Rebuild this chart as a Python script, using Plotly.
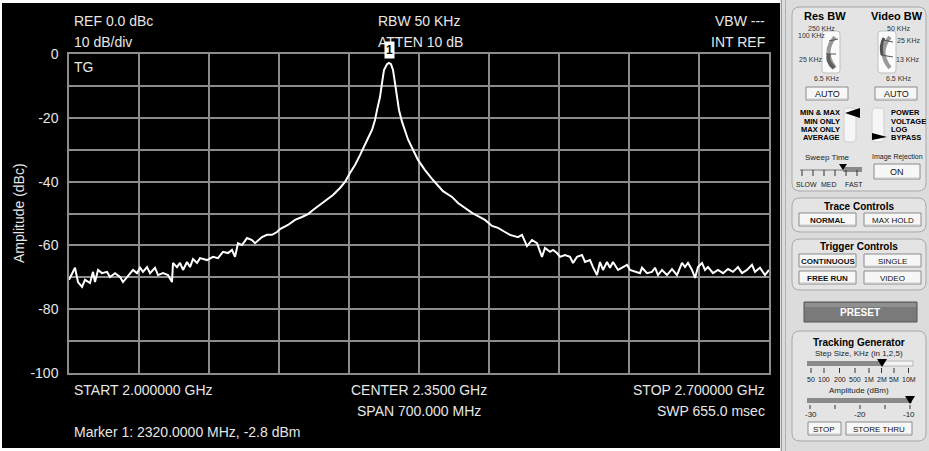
import plotly.graph_objects as go

# ---------------- data ----------------
freq_mhz = [2000, 2006, 2009, 2013, 2016, 2021, 2024, 2026, 2029, 2033, 2038, 2041, 2046, 2051,
            2054, 2058, 2061, 2064, 2068, 2071, 2074, 2078, 2081, 2086, 2089, 2094, 2099, 2103,
            2104, 2108, 2111, 2114, 2118, 2121, 2124, 2128, 2131, 2138, 2144, 2149, 2154, 2159,
            2163, 2166, 2169, 2173, 2178, 2183, 2186, 2193, 2198, 2203, 2208, 2211, 2219, 2226,
            2233, 2239, 2244, 2251, 2258, 2264, 2271, 2276, 2281, 2286, 2291, 2295, 2299, 2303,
            2306, 2308, 2311, 2313, 2315, 2318, 2320, 2322, 2324, 2326, 2328, 2330, 2333, 2336,
            2339, 2344, 2349, 2356, 2364, 2374, 2383, 2389, 2396, 2403, 2409, 2416, 2423, 2429,
            2436, 2441, 2449, 2453, 2458, 2463, 2468, 2473, 2476, 2481, 2484, 2488, 2491, 2496,
            2501, 2504, 2508, 2513, 2516, 2521, 2524, 2528, 2531, 2534, 2538, 2541, 2544, 2549,
            2554, 2558, 2561, 2566, 2571, 2573, 2578, 2583, 2586, 2589, 2593, 2598, 2603, 2608,
            2613, 2616, 2619, 2623, 2626, 2629, 2633, 2636, 2639, 2644, 2649, 2654, 2659, 2664,
            2669, 2673, 2678, 2683, 2686, 2691, 2696, 2700]
amp_dbc = [-70.8, -67.0, -71.5, -73.0, -70.8, -71.8, -68.3, -71.5, -67.7, -68.7, -68.3, -69.9, -68.7, -69.9,
           -71.5, -69.9, -68.7, -67.7, -68.7, -67.0, -68.3, -66.8, -68.7, -67.0, -69.3, -68.7, -69.3, -71.5,
           -65.5, -66.8, -65.5, -67.7, -65.2, -66.8, -64.3, -65.5, -64.0, -64.6, -63.6, -64.0, -62.0, -62.4,
           -61.4, -63.6, -59.3, -59.9, -57.7, -58.3, -59.3, -57.4, -56.7, -56.7, -55.8, -54.9, -53.6, -52.0,
           -51.1, -50.2, -48.9, -47.3, -45.8, -44.2, -42.0, -40.1, -37.3, -34.8, -31.7, -28.8, -26.4, -23.8,
           -20.7, -17.6, -13.5, -9.1, -5.0, -3.2, -2.8, -3.2, -5.0, -9.1, -13.5, -17.6, -21.2, -24.2,
           -26.8, -30.0, -33.2, -36.4, -39.5, -43.0, -44.8, -46.7, -48.3, -49.8, -50.8, -52.0, -53.9, -54.5,
           -55.8, -56.7, -57.4, -56.7, -60.2, -58.3, -59.3, -63.6, -60.8, -62.0, -61.4, -62.4, -63.6, -63.0,
           -63.6, -65.5, -63.6, -63.0, -65.2, -64.6, -66.8, -69.3, -65.2, -67.7, -65.2, -67.0, -65.2, -67.7,
           -66.8, -66.1, -67.7, -68.3, -68.7, -67.0, -68.7, -68.3, -67.0, -69.3, -67.7, -69.3, -67.4, -69.3,
           -65.5, -66.8, -65.5, -67.7, -70.2, -66.8, -65.5, -67.7, -66.8, -68.7, -67.7, -68.7, -67.4, -68.3,
           -66.8, -68.7, -67.7, -66.1, -68.3, -67.0, -69.3, -67.7]

y_tick_vals = [0, -10, -20, -30, -40, -50, -60, -70, -80, -90, -100]
y_tick_text = ["0", "", "-20", "", "-40", "", "-60", "", "-80", "", "-100"]
x_grid_vals = [2000, 2070, 2140, 2210, 2280, 2350, 2420, 2490, 2560, 2630, 2700]

marker_freq = 2320
marker_amp = -2.8

# ---------------- geometry helpers (pixel -> paper) ----------------
W, H = 929, 451
PL, PR, PT, PB = 69, 769, 54, 373


def px(x):
    return (x - PL) / (PR - PL)


def py(y):
    return (PB - y) / (PB - PT)


FONT = "Liberation Sans, Arial, sans-serif"
shapes = []
annots = []


def text(x, y, s, size, anchor="center", color="black", bold=False, yanchor="middle"):
    if bold:
        s = "<b>" + s + "</b>"
    annots.append(dict(x=px(x), y=py(y), xref="paper", yref="paper", text=s, showarrow=False,
                       xanchor=anchor, yanchor=yanchor,
                       font=dict(family=FONT, size=size, color=color)))


def rect(x0, y0, x1, y1, fill, line="rgba(0,0,0,0)", lw=0):
    shapes.append(dict(type="rect", xref="paper", yref="paper", x0=px(x0), x1=px(x1),
                       y0=py(y1), y1=py(y0), fillcolor=fill, line=dict(color=line, width=lw),
                       layer="above"))


def P(x, y):
    return f"{px(x):.5f},{py(y):.5f}"


def rrect(x0, y0, x1, y1, r, fill, line, lw=1):
    path = (f"M {P(x0 + r, y0)} L {P(x1 - r, y0)} Q {P(x1, y0)} {P(x1, y0 + r)} "
            f"L {P(x1, y1 - r)} Q {P(x1, y1)} {P(x1 - r, y1)} L {P(x0 + r, y1)} "
            f"Q {P(x0, y1)} {P(x0, y1 - r)} L {P(x0, y0 + r)} Q {P(x0, y0)} {P(x0 + r, y0)} Z")
    shapes.append(dict(type="path", xref="paper", yref="paper", path=path, fillcolor=fill,
                       line=dict(color=line, width=lw), layer="above"))


def poly(pts, fill, line=None, lw=0):
    path = "M " + " L ".join(P(a, b) for a, b in pts) + " Z"
    shapes.append(dict(type="path", xref="paper", yref="paper", path=path, fillcolor=fill,
                       line=dict(color=line or fill, width=lw), layer="above"))


def seg(x0, y0, x1, y1, color, lw=1):
    shapes.append(dict(type="line", xref="paper", yref="paper", x0=px(x0), y0=py(y0),
                       x1=px(x1), y1=py(y1), line=dict(color=color, width=lw), layer="above"))


def curve(x0, y0, cx, cy, x1, y1, color, lw):
    shapes.append(dict(type="path", xref="paper", yref="paper",
                       path=f"M {P(x0, y0)} Q {P(cx, cy)} {P(x1, y1)}",
                       line=dict(color=color, width=lw), layer="above"))


def button(x0, y0, x1, y1, label, size=8, bold=False):
    rect(x0, y0, x1, y1, "#f7f7f7", "#8a8a8a", 1)
    seg(x0 + 1, y1 - 1, x1 - 1, y1 - 1, "#c8c8c8", 1)
    text((x0 + x1) / 2, (y0 + y1) / 2 + 0.5, label, size, bold=bold, color="#111111")


# ---------------- frame / panel ----------------
rect(0, 0, W, 3, "white")
rect(0, 448, W, H, "white")
rect(0, 0, 2, H, "white")
rect(780, 0, W, H, "#dcdcdc")
seg(781.5, 0, 781.5, H, "#9a9a9a", 1)
seg(785.5, 0, 785.5, H, "#b0b0b0", 1)

# group boxes
rrect(792, 7, 926, 191, 8, "#e4e4e4", "#a8a8a8", 1)
rrect(792, 198, 926, 232, 8, "#e4e4e4", "#a8a8a8", 1)
rrect(792, 239, 926, 290, 8, "#e4e4e4", "#a8a8a8", 1)
rrect(792, 331, 926, 441, 8, "#e4e4e4", "#a8a8a8", 1)

# Res BW / Video BW
text(825, 16, "Res BW", 11, bold=True)
text(897, 16, "Video BW", 11, bold=True)
text(821, 28, "250 KHz", 7, color="#333")
text(811, 35, "100 KHz", 7, color="#333")
text(810, 60, "25 KHz", 7, color="#333")
text(826, 79, "6.5 KHz", 7, color="#333")
text(898, 28, "50 KHz", 7, color="#333")
text(908, 40, "25 KHz", 7, color="#333")
text(907, 60, "13 KHz", 7, color="#333")
text(898, 79, "6.5 KHz", 7, color="#333")
# knobs
rrect(822, 31, 840, 73, 3, "#fbfbfb", "#c0c0c0", 1)
curve(835, 37, 822, 52, 835, 68, "#9a9a9a", 4)
curve(829, 54, 826, 61, 834, 68, "#606060", 4)
seg(829, 41, 838, 39, "#555", 1)
seg(826, 54, 836, 54, "#555", 1)
rrect(878, 31, 896, 73, 3, "#fbfbfb", "#c0c0c0", 1)
curve(890, 37, 877, 52, 890, 68, "#9a9a9a", 4)
curve(884, 38, 880, 45, 882, 55, "#505050", 3)
seg(883, 40, 893, 42, "#555", 1)
seg(881, 55, 893, 57, "#555", 1)
button(806, 87, 848, 100, "AUTO", 9)
button(875, 87, 917, 100, "AUTO", 9)

# averaging / detector selectors
for i, lab in enumerate(["MIN &amp; MAX", "MIN ONLY", "MAX ONLY", "AVERAGE"]):
    text(842, 113 + 8 * i, lab, 7.5, anchor="right", bold=True)
    seg(845, 113 + 8 * i, 849, 113 + 8 * i, "#333", 1)
rrect(844, 108, 856, 142, 4, "#f6f6f6", "#cfcfcf", 1)
poly([(845, 113), (860, 108), (860, 118)], "black")
for i, lab in enumerate(["POWER", "VOLTAGE", "LOG", "BYPASS"]):
    text(889, 113 + 8 * i, lab, 7.5, anchor="left", bold=True)
    seg(876, 113 + 8 * i, 880, 113 + 8 * i, "#333", 1)
rrect(872, 108, 884, 142, 4, "#f6f6f6", "#cfcfcf", 1)
poly([(872, 133), (872, 140), (887, 137)], "black")

# sweep time
text(827, 157, "Sweep Time", 8, color="#222")
seg(800, 170, 862, 170, "#777", 1)
rect(843, 167, 862, 172, "#8a8a8a")
for tx in [802, 813, 824, 835, 846, 857]:
    seg(tx, 170, tx, 176, "#333", 1)
poly([(839, 164), (847, 164), (843, 170)], "black")
text(806, 184, "SLOW", 7, color="#222")
text(829, 184, "MED", 7, color="#222")
text(854, 184, "FAST", 7, color="#222")
text(897, 157, "Image Rejection", 7, color="#222")
button(874, 164, 920, 179, "ON", 9)

# trace controls
text(859, 206, "Trace Controls", 10, bold=True)
button(799, 213, 856, 226, "NORMAL", 8, bold=True)
button(864, 213, 921, 226, "MAX HOLD", 8)

# trigger controls
text(859, 247, "Trigger Controls", 10, bold=True)
button(799, 254, 856, 267, "CONTINUOUS", 8, bold=True)
button(864, 254, 921, 267, "SINGLE", 8)
button(799, 271, 856, 284, "FREE RUN", 8, bold=True)
button(864, 271, 921, 284, "VIDEO", 8)

# preset
rect(804, 302, 917, 322, "#7a7a7a", "#555", 1)
rect(805, 303, 916, 307, "#909090")
text(860, 312.5, "PRESET", 10, bold=True, color="white")

# tracking generator
text(859, 342, "Tracking Generator", 10, bold=True)
text(859, 353, "Step Size, KHz (in 1,2,5)", 8, color="#222")
rect(807, 361, 882, 366, "#8a8a8a")
rect(882, 361, 913, 366, "#f2f2f2", "#aaa", 0.8)
step_ticks = [811, 824, 839.5, 855, 869, 881.5, 894, 908.5]
for tx in step_ticks:
    seg(tx, 368, tx, 373, "#333", 1)
poly([(877, 359), (887, 359), (882, 367)], "black")
for tx, lab in zip(step_ticks, ["50", "100", "200", "500", "1M", "2M", "5M", "10M"]):
    text(tx, 379, lab, 7, color="#222")
text(859, 390, "Amplitude (dBm)", 8, color="#222")
rect(807, 398, 912, 403, "#8a8a8a")
for tx in [810, 835, 860, 885, 910]:
    seg(tx, 405, tx, 409, "#333", 1)
poly([(905, 396), (915, 396), (910, 404)], "black")
text(811, 414, "-30", 8, color="#222")
text(860, 414, "-20", 8, color="#222")
text(909, 414, "-10", 8, color="#222")
button(808, 422, 841, 435, "STOP", 8)
button(846, 422, 912, 435, "STORE THRU", 8)

# ---------------- analyzer screen texts ----------------
W14 = "#e6e6e6"
text(72, 21, "REF 0.0 dBc", 14, anchor="left", color=W14)
text(72, 42, "10 dB/div", 14, anchor="left", color=W14)
text(376, 21, "RBW 50 KHz", 14, anchor="left", color=W14)
text(376, 42, "ATTEN 10 dB", 14, anchor="left", color=W14)
text(767, 21, "VBW ---", 14, anchor="right", color=W14)
text(767, 42, "INT REF", 14, anchor="right", color=W14)
text(72, 67, "TG", 14, anchor="left", color=W14)
text(72, 390, "START 2.000000 GHz", 14, anchor="left", color=W14)
text(419, 390, "CENTER 2.3500 GHz", 14, color=W14)
text(419, 411, "SPAN 700.000 MHz", 14, color=W14)
text(767, 390, "STOP 2.700000 GHz", 14, anchor="right", color=W14)
text(767, 411, "SWP 655.0 msec", 14, anchor="right", color=W14)
text(72, 432, "Marker 1: 2320.0000 MHz, -2.8 dBm", 14, anchor="left", color=W14)
annots.append(dict(x=px(9), y=py(213), xref="paper", yref="paper",
                   text="Amplitude (dBc)", textangle=-90, showarrow=False,
                   font=dict(family=FONT, size=14, color=W14)))

# marker flag
annots.append(dict(x=marker_freq, y=marker_amp, xref="x", yref="y", text="<b>1</b>",
                   showarrow=False, yshift=13, bgcolor="white", borderpad=1,
                   font=dict(family=FONT, size=12, color="black")))

fig = go.Figure()
fig.add_trace(go.Scatter(x=freq_mhz, y=amp_dbc, mode="lines",
                         line=dict(color="white", width=2), hoverinfo="skip"))

GRID = "#8c8c8c"
fig.update_layout(
    width=W, height=H, autosize=False,
    margin=dict(l=PL, r=W - PR, t=PT, b=H - PB, pad=0),
    paper_bgcolor="black", plot_bgcolor="black",
    showlegend=False,
    shapes=shapes, annotations=annots,
    xaxis=dict(range=[2000, 2700], tickvals=x_grid_vals, showticklabels=False, ticks="",
               showgrid=True, gridcolor=GRID, gridwidth=1.5, zeroline=False,
               showline=True, linecolor=GRID, linewidth=1.5, mirror=True, fixedrange=True),
    yaxis=dict(range=[-100, 0], tickvals=y_tick_vals, ticktext=y_tick_text, ticks="",
               showgrid=True, gridcolor=GRID, gridwidth=1.5, zeroline=False,
               showline=True, linecolor=GRID, linewidth=1.5, mirror=True, fixedrange=True,
               tickfont=dict(family=FONT, size=14, color=W14), ticklabelstandoff=6),
)

fig.write_html("out.html", config={"displayModeBar": False},
               post_script="document.body.style.margin='0';document.body.style.overflow='hidden';")
